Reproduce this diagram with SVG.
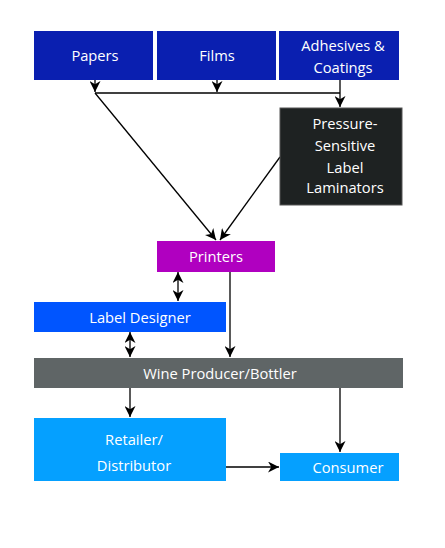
<svg xmlns="http://www.w3.org/2000/svg" width="445" height="548" viewBox="0 0 445 548">
<defs>
<marker id="ah" viewBox="0 0 10 10" refX="10" refY="5" markerWidth="11" markerHeight="11" markerUnits="userSpaceOnUse" orient="auto-start-reverse">
<path d="M0,0 L10,5 L0,10 L3,5 Z" fill="#000"/>
</marker>
<style>
text{font-family:"Open Sans","Noto Sans","Liberation Sans",sans-serif;font-size:14.7px;fill:#fff;text-anchor:middle;dominant-baseline:central}
.c{stroke:#000;stroke-width:1.3;fill:none}
</style>
</defs>
<rect width="445" height="548" fill="#fff"/>
<g id="connectors">
<line class="c" x1="95" y1="80" x2="95" y2="92" marker-end="url(#ah)"/>
<line class="c" x1="217" y1="80" x2="217" y2="92" marker-end="url(#ah)"/>
<line class="c" x1="95" y1="93" x2="340" y2="93"/>
<line class="c" x1="340" y1="80" x2="340" y2="107" marker-end="url(#ah)"/>
<line class="c" x1="95" y1="93" x2="216" y2="240" marker-end="url(#ah)"/>
<line class="c" x1="280" y1="157" x2="220" y2="240" marker-end="url(#ah)"/>
<line class="c" x1="178" y1="272" x2="178" y2="301" marker-start="url(#ah)" marker-end="url(#ah)"/>
<line class="c" x1="230" y1="272" x2="230" y2="357" marker-end="url(#ah)"/>
<line class="c" x1="130" y1="332" x2="130" y2="357" marker-start="url(#ah)" marker-end="url(#ah)"/>
<line class="c" x1="130" y1="388" x2="130" y2="417" marker-end="url(#ah)"/>
<line class="c" x1="340" y1="388" x2="340" y2="452" marker-end="url(#ah)"/>
<line class="c" x1="226" y1="467" x2="279" y2="467" marker-end="url(#ah)"/>
</g>
<g id="papers">
<rect x="34" y="31" width="119" height="49" fill="#0a1fb0"/>
<text x="95" y="55">Papers</text>
</g>
<g id="films">
<rect x="157" y="31" width="119" height="49" fill="#0a1fb0"/>
<text x="217" y="55">Films</text>
</g>
<g id="adhesives">
<rect x="279" y="31" width="120" height="49" fill="#0a1fb0"/>
<text x="343" y="45">Adhesives &amp;</text>
<text x="343" y="67">Coatings</text>
</g>
<g id="laminators">
<rect x="280" y="108" width="122" height="97" fill="#1e2222" stroke="#555" stroke-width="1"/>
<text x="345" y="123">Pressure-</text>
<text x="345" y="145">Sensitive</text>
<text x="345" y="167">Label</text>
<text x="345" y="187">Laminators</text>
</g>
<g id="printers">
<rect x="157" y="241" width="118" height="31" fill="#b000c0"/>
<text x="216" y="256">Printers</text>
</g>
<g id="label-designer">
<rect x="34" y="302" width="192" height="30" fill="#0055ff"/>
<text x="140" y="317">Label Designer</text>
</g>
<g id="wine">
<rect x="34" y="358" width="369" height="30" fill="#5f6566"/>
<text x="220" y="373">Wine Producer/Bottler</text>
</g>
<g id="retailer">
<rect x="34" y="418" width="192" height="63" fill="#05a0ff"/>
<text x="134" y="439">Retailer/</text>
<text x="134" y="465">Distributor</text>
</g>
<g id="consumer">
<rect x="280" y="453" width="119" height="28" fill="#05a0ff"/>
<text x="348" y="467">Consumer</text>
</g>
</svg>
